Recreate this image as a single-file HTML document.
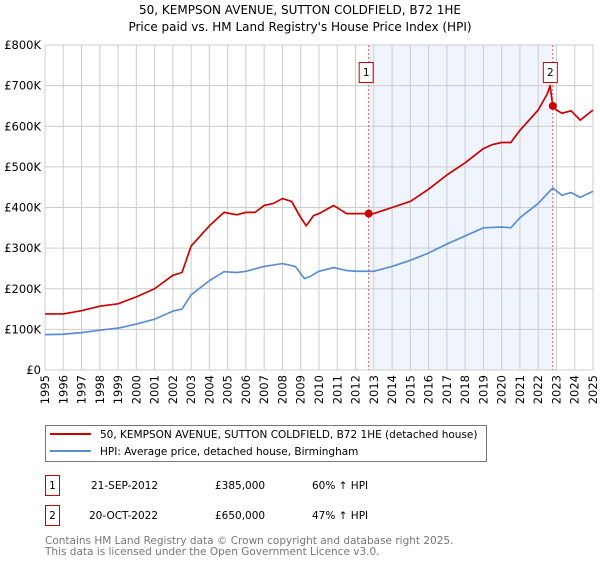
<!DOCTYPE html>
<html><head><meta charset="utf-8"><style>
body{margin:0;background:#fff;width:600px;height:560px;overflow:hidden;font-family:"DejaVu Sans","Liberation Sans",sans-serif}
</style></head><body>
<svg width="600" height="560" xmlns="http://www.w3.org/2000/svg" style="font-family:'DejaVu Sans','Liberation Sans',sans-serif">
<text x="300" y="14" text-anchor="middle" font-size="12">50, KEMPSON AVENUE, SUTTON COLDFIELD, B72 1HE</text>
<text x="300" y="31" text-anchor="middle" font-size="12">Price paid vs. HM Land Registry's House Price Index (HPI)</text>
<g id="plot"></g>
<g>
<rect x="45.5" y="425.5" width="441" height="36" fill="#fff" stroke="#777"/>
<line x1="50" y1="434" x2="91" y2="434" stroke="#cc0000" stroke-width="2"/>
<text x="100" y="438" font-size="10.5">50, KEMPSON AVENUE, SUTTON COLDFIELD, B72 1HE (detached house)</text>
<line x1="50" y1="451" x2="91" y2="451" stroke="#5b8fd4" stroke-width="2"/>
<text x="100" y="455" font-size="10.5">HPI: Average price, detached house, Birmingham</text>
</g>
<g font-size="10.5">
<rect x="45.5" y="475.5" width="14" height="20" fill="#fff" stroke="#cc0000"/>
<text x="52.5" y="489" text-anchor="middle">1</text>
<text x="91" y="489">21-SEP-2012</text>
<text x="215" y="489">£385,000</text>
<text x="312" y="489">60% ↑ HPI</text>
<rect x="45.5" y="505.5" width="14" height="20" fill="#fff" stroke="#cc0000"/>
<text x="52.5" y="519" text-anchor="middle">2</text>
<text x="89" y="519">20-OCT-2022</text>
<text x="215" y="519">£650,000</text>
<text x="312" y="519">47% ↑ HPI</text>
</g>
<text x="45" y="544" font-size="10.5" fill="#777">Contains HM Land Registry data © Crown copyright and database right 2025.</text>
<text x="45" y="555" font-size="10.5" fill="#777">This data is licensed under the Open Government Licence v3.0.</text>
</svg>
<script>
const years=[1995,1996,1997,1998,1999,2000,2001,2002,2003,2004,2005,2006,2007,2008,2009,2010,2011,2012,2013,2014,2015,2016,2017,2018,2019,2020,2021,2022,2023,2024,2025];
const yTicks=[0,100000,200000,300000,400000,500000,600000,700000,800000];
const yTickLabels=["£0","£100K","£200K","£300K","£400K","£500K","£600K","£700K","£800K"];
const hpiT=[1995,1996,1997,1998,1999,2000,2001,2002,2002.5,2003,2004,2004.8,2005.5,2006,2007,2008,2008.7,2009.2,2009.5,2010,2010.8,2011.5,2012,2013,2014,2015,2016,2017,2018,2019,2020,2020.5,2021,2022,2022.8,2023.3,2023.8,2024.3,2025];
const hpiV=[87,88,92,98,103,113,125,145,150,185,220,242,240,243,255,262,255,225,230,243,252,245,243,243,255,270,288,310,330,350,352,350,375,410,448,430,437,425,440];
const redT=[1995,1996,1997,1998,1999,2000,2001,2002,2002.5,2003,2004,2004.8,2005.5,2006,2006.5,2007,2007.5,2008,2008.5,2009,2009.3,2009.7,2010,2010.8,2011.5,2012,2012.72,2013,2014,2015,2016,2017,2018,2019,2019.5,2020,2020.5,2021,2022,2022.5,2022.65,2022.8,2023,2023.3,2023.8,2024.3,2025];
const redV=[138,138,146,157,163,180,200,233,240,305,355,388,382,388,388,405,410,422,415,375,355,380,385,405,385,385,385,385,400,415,445,480,510,545,555,560,560,590,640,680,700,650,640,632,638,615,640];
const saleT=[2012.72,2022.8];
const saleV=[385000,650000];
const saleLabels=["1","2"];
const L=45,R=593,T=45,B=370;
const x=t=>L+(t-1995)/30*(R-L);
const y=v=>B-v/800000*(B-T);
const NS="http://www.w3.org/2000/svg";
const g=document.getElementById('plot');
function mk(tag,attrs){const e=document.createElementNS(NS,tag);for(const k in attrs)e.setAttribute(k,attrs[k]);g.appendChild(e);return e;}
let e=mk('rect',{x:x(saleT[0]),y:T,width:x(saleT[1])-x(saleT[0]),height:B-T,fill:'#f0f4fd'});


years.forEach(yr=>{const l=mk('line',{x1:x(yr),x2:x(yr),y1:T,y2:B,stroke:'#cccccc'});


const t=mk('text',{x:0,y:0,'font-size':11.5,'text-anchor':'end',transform:`translate(${x(yr)+4},${B+5}) rotate(-90)`});t.textContent=yr;

});
yTicks.forEach((v,i)=>{const l=mk('line',{x1:L,x2:R,y1:y(v),y2:y(v),stroke:'#cccccc'});


const t=mk('text',{x:L-4,y:y(v)+4,'font-size':11.5,'text-anchor':'end'});t.textContent=yTickLabels[i];

});
function line(ts,vs,col,name){const p=mk('polyline',{points:ts.map((t,i)=>x(t)+','+y(vs[i]*1000)).join(' '),fill:'none',stroke:col,'stroke-width':1.7,'stroke-linejoin':'round'});

}
line(hpiT,hpiV,'#5b8fd4','hpi-line');
line(redT,redV,'#cc0000','property-line');
saleT.forEach((t,i)=>{const d=mk('line',{x1:x(t),x2:x(t),y1:T,y2:B,stroke:'#e06060','stroke-dasharray':'2,2'});


const c=mk('circle',{cx:x(t),cy:y(saleV[i]),r:4,fill:'#cc0000'});


const b=mk('rect',{x:x(t)-9.5,y:62.5,width:14,height:20,fill:'#fff',stroke:'#cc0000'});


const tx=mk('text',{x:x(t)-2.5,y:76,'font-size':10.5,'text-anchor':'middle'});tx.textContent=saleLabels[i];

});
</script>
</body></html>
